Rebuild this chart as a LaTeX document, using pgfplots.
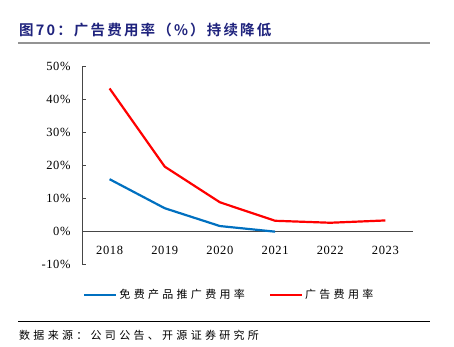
\documentclass[border=0pt]{standalone}
\usepackage{pgfplots}
\pgfplotsset{compat=1.18}
\usepackage{fontspec}
\setmainfont{Liberation Serif}
\newfontfamily\numfont[LetterSpace=5]{Liberation Serif}
\newfontfamily\cjk[LetterSpace=30]{Noto Sans CJK SC}
\newfontfamily\cjkb[LetterSpace=15]{Noto Sans CJK SC Bold}
\definecolor{titleblue}{RGB}{31,35,125}
\definecolor{lblue}{RGB}{0,112,192}
\definecolor{axgray}{RGB}{70,70,70}
\begin{document}
\begin{tikzpicture}
\begin{axis}[
  at={(82pt,82pt)}, anchor=south west,
  scale only axis, width=331pt, height=198pt,
  xmin=-0.5, xmax=5.5, ymin=-10, ymax=50,
  axis x line=middle, axis y line=left,
  axis line style={axgray, line width=0.8pt, -},
  xtick={0,1,2,3,4,5},
  xticklabels={2018,2019,2020,2021,2022,2023},
  major x tick style={draw=none},
  extra x ticks={-0.5,0.5,1.5,2.5,3.5,4.5,5.5},
  extra x tick labels={},
  extra x tick style={tick style={draw=axgray, line width=0.8pt}, major tick length=4pt, tick align=inside, xticklabel=\empty},
  x tick label style={yshift=-12pt, font=\numfont\fontsize{12.5}{13}\selectfont},
  ytick={-10,0,10,20,30,40,50},
  yticklabel={\pgfmathprintnumber{\tick}\%},
  y tick label style={xshift=-8pt, font=\numfont\fontsize{12.5}{13}\selectfont},
  ytick style={draw=axgray, line width=0.8pt},
  major tick length=3.5pt,
  tick align=inside,
  /pgf/number format/assume math mode=true,
  legend style={at={(0.445,-0.157)}, anchor=center, draw=none, fill=none, legend columns=2, font=\cjk\fontsize{11}{12}\selectfont, /tikz/every even column/.append style={column sep=22pt}},
  legend image code/.code={\draw[#1, line width=2.2pt] (0,0) -- (32pt,0);},
  clip=false,
]
\addplot[lblue, line width=2.2pt] coordinates {(0,15.7) (1,6.9) (2,1.5) (3,-0.2)};
\addlegendentry{免费产品推广费用率}
\addplot[red, line width=2.2pt] coordinates {(0,43.2) (1,19.5) (2,8.7) (3,3.1) (4,2.5) (5,3.2)};
\addlegendentry{广告费用率}
\end{axis}
\node[anchor=west,inner sep=0pt,text=titleblue,font=\cjkb\fontsize{14.5}{15}\selectfont] at (19pt,316pt) {图70：广告费用率（\%）持续降低};
\draw[line width=1.4pt,color=gray!85] (18pt,303pt) -- (430pt,303pt);
\draw[line width=0.9pt,color=black] (18pt,25pt) -- (430pt,25pt);
\node[anchor=west,inner sep=0pt,font=\cjk\fontsize{11}{12}\selectfont] at (19pt,11pt) {数据来源：公司公告、开源证券研究所};
\pgfresetboundingbox
\path[use as bounding box] (0pt,0pt) rectangle (454pt,346pt);
\end{tikzpicture}
\end{document}
